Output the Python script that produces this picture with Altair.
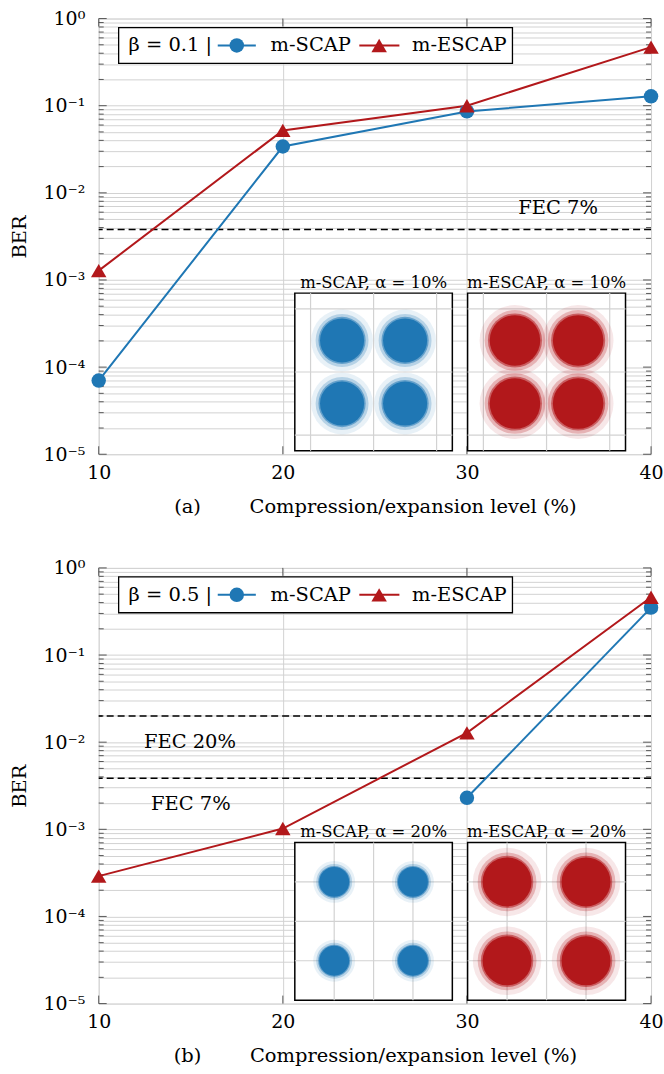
import altair as alt
import pandas as pd

# ---------------- data ----------------
levels = [10, 20, 30, 40]
a_scap_ber = [7.0e-5, 0.034, 0.086, 0.128]
a_escap_ber = [1.28e-3, 0.052, 0.100, 0.47]
b_scap_levels = [30, 40]
b_scap_ber = [2.3e-3, 0.35]
b_escap_ber = [2.9e-4, 1.02e-3, 0.0128, 0.46]

a_fec_ber = [3.8e-3]
a_fec_text = ["FEC 7%"]
b_fec_ber = [0.02, 3.85e-3]
b_fec_text = ["FEC 20%", "FEC 7%"]

series_names = ["m-SCAP", "m-ESCAP"]
betas = ["β = 0.1 |", "β = 0.5 |"]
panel_tags = ["(a)", "(b)"]
x_title = "Compression/expansion level (%)"
y_title = "BER"

inset_titles_a = ["m-SCAP, α = 10%", "m-ESCAP, α = 10%"]
inset_titles_b = ["m-SCAP, α = 20%", "m-ESCAP, α = 20%"]
cluster_i = [-1, 1, -1, 1]
cluster_q = [1, 1, -1, -1]
a_inset_half = 2.5
a_inset_grid = [-2, 0, 2]
b_inset_half = 2.0
b_inset_grid = [-1, 0, 1]
a_spread = [0.70, 0.80]   # core radius of the clouds (constellation units): SCAP, ESCAP
b_spread = [0.38, 0.62]

decades = [1e-5, 1e-4, 1e-3, 1e-2, 1e-1, 1.0]
minor_ticks = [m * d for d in decades[:-1] for m in range(2, 10)]

# ---------------- style ----------------
W, H = 554, 437
FONT = "DejaVu Serif"
FS_TICK = 19
FS_TEXT = 19.5
FS_INSET = 16.5
BLUE = "#1f77b4"
RED = "#b2181b"
GRID = "#d2d2d2"
INSET_X = [[196.7, 354.7], [370.0, 528.4]]
INSET_Y = [433.6, 275.4]

LABEL_EXPR = ("abs(log(datum.value)/LN10 - round(log(datum.value)/LN10)) < 0.001 ? "
              "'10' + ['\u2070','\u207b\u00b9','\u207b\u00b2','\u207b\u00b3','\u207b\u2074','\u207b\u2075']"
              "[-round(log(datum.value)/LN10)] : ''")


def xs():
    return alt.Scale(domain=[10, 40], nice=False, zero=False)


def ys():
    return alt.Scale(type="log", domain=[1e-5, 1], nice=False)


def inset_layers(k, title, color, spread, half, grid):
    xr = INSET_X[k]
    sx = lambda: alt.Scale(domain=[-half, half], range=xr, nice=False, zero=False)
    sy = lambda: alt.Scale(domain=[-half, half], range=INSET_Y, nice=False, zero=False)
    ppu = (xr[1] - xr[0]) / (2 * half)
    out = []
    box = pd.DataFrame({"x1": [-half], "x2": [half], "y1": [-half], "y2": [half]})
    out.append(alt.Chart(box).mark_rect(fill="white", stroke="black", strokeWidth=1.5).encode(
        x=alt.X("x1:Q", scale=sx(), axis=None), x2="x2:Q",
        y=alt.Y("y1:Q", scale=sy(), axis=None), y2="y2:Q"))
    gv = pd.DataFrame({"g": grid, "lo": [-half] * len(grid), "hi": [half] * len(grid)})
    out.append(alt.Chart(gv).mark_rule(color=GRID, strokeWidth=1.2).encode(
        x=alt.X("g:Q", scale=sx(), axis=None),
        y=alt.Y("lo:Q", scale=sy(), axis=None), y2="hi:Q"))
    out.append(alt.Chart(gv).mark_rule(color=GRID, strokeWidth=1.2).encode(
        y=alt.Y("g:Q", scale=sy(), axis=None),
        x=alt.X("lo:Q", scale=sx(), axis=None), x2="hi:Q"))
    cl = pd.DataFrame({"i": cluster_i, "q": cluster_q})
    for f, op in [(1.4, 0.1), (1.2, 0.25), (1.07, 0.55), (1.0, 1.0)]:
        d = 2 * spread * ppu * f
        out.append(alt.Chart(cl).mark_circle(color=color, opacity=op, size=d * d).encode(
            x=alt.X("i:Q", scale=sx(), axis=None),
            y=alt.Y("q:Q", scale=sy(), axis=None)))
    tt = pd.DataFrame({"t": [title], "x": [0], "y": [half]})
    out.append(alt.Chart(tt).mark_text(font=FONT, fontSize=FS_INSET, baseline="bottom", dy=-2,
                                       color="black").encode(
        x=alt.X("x:Q", scale=sx(), axis=None),
        y=alt.Y("y:Q", scale=sy(), axis=None), text="t:N"))
    return out


def legend_layers(beta):
    one = pd.DataFrame({"k": [0]})
    out = []
    yv = 27
    out.append(alt.Chart(one).mark_rect(fill="white", stroke="black", strokeWidth=1.3).encode(
        x=alt.value(20), x2=alt.value(415), y=alt.value(9), y2=alt.value(45)))
    out.append(alt.Chart(one).mark_text(font=FONT, fontSize=FS_TEXT, align="left", baseline="middle",
                                        text=beta).encode(x=alt.value(30), y=alt.value(yv)))
    for (x0, x1, xm, xt, col, shp, sz, name) in [
            (119.4, 157.6, 138.5, 172.4, BLUE, "circle", 210, series_names[0]),
            (261.4, 301.6, 281.3, 314.3, RED, "triangle-up", 240, series_names[1])]:
        out.append(alt.Chart(one).mark_rule(color=col, strokeWidth=2).encode(
            x=alt.value(x0), x2=alt.value(x1), y=alt.value(yv)))
        out.append(alt.Chart(one).mark_point(shape=shp, filled=True, opacity=1, color=col,
                                             size=sz).encode(x=alt.value(xm), y=alt.value(yv)))
        out.append(alt.Chart(one).mark_text(font=FONT, fontSize=FS_TEXT, align="left",
                                            baseline="middle", text=name).encode(
            x=alt.value(xt), y=alt.value(yv)))
    return out


def panel(tag, scap_levels, scap_ber, escap_ber, fec_ber, fec_text, fec_pos,
          beta, inset_titles, half, grid, spread):
    layers = []
    # inward ticks (left / right / bottom / top)
    maj = pd.DataFrame({"v": decades})
    mnr = pd.DataFrame({"v": minor_ticks})
    for df, ln in [(maj, 8), (mnr, 5)]:
        for a, b in [(0, ln), (W, W - ln)]:
            layers.append(alt.Chart(df).mark_rule(color="#333333", strokeWidth=0.8).encode(
                y=alt.Y("v:Q", scale=ys(), axis=None), x=alt.value(a), x2=alt.value(b)))
    lv = pd.DataFrame({"v": levels})
    for a, b in [(H, H - 8), (0, 8)]:
        layers.append(alt.Chart(lv).mark_rule(color="#333333", strokeWidth=0.8).encode(
            x=alt.X("v:Q", scale=xs(), axis=None), y=alt.value(a), y2=alt.value(b)))
    # FEC thresholds
    fdf = pd.DataFrame({"ber": fec_ber, "text": fec_text})
    layers.append(alt.Chart(fdf).mark_rule(color="black", strokeWidth=1.6, strokeDash=[7, 4]).encode(
        y=alt.Y("ber:Q", scale=ys(), axis=None)))
    for j, (px, dy, al) in enumerate(fec_pos):
        layers.append(alt.Chart(fdf.iloc[[j]]).mark_text(font=FONT, fontSize=FS_TEXT, align=al,
                                                           baseline="middle", dy=dy).encode(
            x=alt.value(px), y=alt.Y("ber:Q", scale=ys(), axis=None), text="text:N"))
    # insets
    for k, col in enumerate([BLUE, RED]):
        layers += inset_layers(k, inset_titles[k], col, spread[k], half, grid)
    # series
    ds = pd.DataFrame({"level": scap_levels, "ber": scap_ber})
    de = pd.DataFrame({"level": levels, "ber": escap_ber})
    layers.append(alt.Chart(ds).mark_line(color=BLUE, strokeWidth=2).encode(
        x=alt.X("level:Q", scale=xs(), axis=None), y=alt.Y("ber:Q", scale=ys(), axis=None)))
    layers.append(alt.Chart(de).mark_line(color=RED, strokeWidth=2).encode(
        x=alt.X("level:Q", scale=xs(), axis=alt.Axis(
            values=levels, grid=True, gridColor=GRID, gridWidth=1, domain=False, ticks=False,
            labelFlush=False, labelPadding=9, labelFontSize=FS_TICK, labelFont=FONT,
            labelColor="black",
            title=tag + "\u2003\u2003\u2002" + x_title, titleFont=FONT, titleFontSize=FS_TEXT,
            titleFontWeight="normal", titleColor="black", titlePadding=15)),
        y=alt.Y("ber:Q", scale=ys(), axis=alt.Axis(
            values=sorted(decades + minor_ticks), grid=True, gridColor=GRID, gridWidth=1,
            domain=False, ticks=False, labelFlush=False, labelPadding=14, labelFontSize=FS_TICK,
            labelFont=FONT, labelColor="black", labelExpr=LABEL_EXPR, labelOverlap=False,
            title=y_title, titleFont=FONT, titleFontSize=FS_TEXT, titleFontWeight="normal",
            titleColor="black", titlePadding=14))))
    layers.append(alt.Chart(ds).mark_point(shape="circle", filled=True, opacity=1, color=BLUE,
                                           size=210).encode(
        x=alt.X("level:Q", scale=xs(), axis=None), y=alt.Y("ber:Q", scale=ys(), axis=None)))
    layers.append(alt.Chart(de).mark_point(shape="triangle-up", filled=True, opacity=1, color=RED,
                                           size=240).encode(
        x=alt.X("level:Q", scale=xs(), axis=None), y=alt.Y("ber:Q", scale=ys(), axis=None)))
    layers += legend_layers(beta)
    return alt.layer(*layers).resolve_scale(x="independent", y="independent").properties(
        width=W, height=H)


pa = panel(panel_tags[0], levels, a_scap_ber, a_escap_ber, a_fec_ber, a_fec_text,
           [(500.7, -21, "right")], betas[0], inset_titles_a, a_inset_half, a_inset_grid, a_spread)
pb = panel(panel_tags[1], b_scap_levels, b_scap_ber, b_escap_ber, b_fec_ber, b_fec_text,
           [(91.5, 26, "center"), (92.4, 26, "center")], betas[1], inset_titles_b,
           b_inset_half, b_inset_grid, b_spread)

chart = alt.vconcat(pa, pb, spacing=42).properties(
    padding={"left": 8, "top": 7, "right": 0, "bottom": 0}
).configure_view(stroke="black", strokeWidth=1.5).configure(font=FONT, background="white")

chart.save("out.html", embed_options={"renderer": "svg", "actions": False})
